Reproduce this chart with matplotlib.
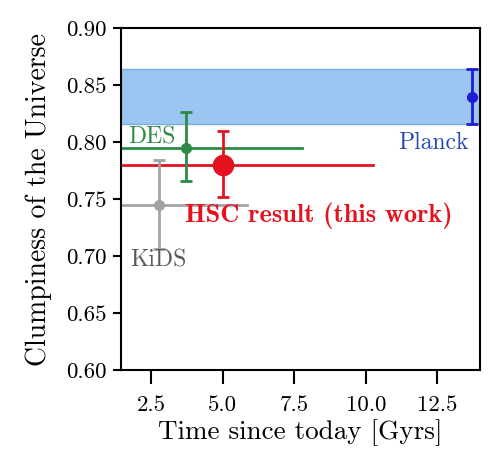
import numpy as np
import matplotlib
matplotlib.use('Agg')
import matplotlib.pyplot as plt

# survey measurements: time since today [Gyr], clumpiness (S8-like)
names = ['KiDS', 'DES', 'HSC', 'Planck']
t_mid = [2.78, 3.72, 5.0, 13.72]
t_max = [5.85, 7.78, 10.25, 13.72]
s8 = [0.745, 0.795, 0.780, 0.840]
s8_lo = [0.706, 0.766, 0.752, 0.816]
s8_hi = [0.784, 0.826, 0.810, 0.864]

colors = {'KiDS': '#a3a3a3', 'DES': '#2e8b46', 'HSC': '#e5121f', 'Planck': '#1c1cd6'}

plt.rcParams['font.family'] = 'cmr10'
plt.rcParams['axes.formatter.use_mathtext'] = True

fig = plt.figure(figsize=(5.04, 4.61), dpi=100)
ax = fig.add_axes([0.240, 0.197, 0.713, 0.742])

xlo = 1.45
# planck band
ax.axhspan(s8_lo[3], s8_hi[3], facecolor='#9cc6f2', edgecolor='#7aaee0', lw=1.0, zorder=0)

for i, n in enumerate(names):
    c = colors[n]
    err = [[s8[i] - s8_lo[i]], [s8_hi[i] - s8[i]]]
    ms = 14.5 if n == 'HSC' else 7
    if n != 'Planck':
        ax.plot([0, t_max[i]], [s8[i], s8[i]], color=c, lw=2, zorder=2)
    ax.errorbar([t_mid[i]], [s8[i]], yerr=err, fmt='o', color=c, ms=ms,
                elinewidth=2, capsize=4.5, capthick=2, zorder=3)

ax.text(1.70, 0.7985, 'DES', color=colors['DES'], fontsize=17, va='baseline')
ax.text(3.70, 0.7355, 'HSC result (this work)', color=colors['HSC'], fontsize=19,
        family='cmb10', va='center')
ax.text(1.77, 0.696, 'KiDS', color='#5a5a5a', fontsize=17, va='center')
ax.text(11.12, 0.7995, 'Planck', color='#2848b0', fontsize=17, va='center')

ax.set_xlim(xlo, 14.0)
ax.set_ylim(0.60, 0.90)
ax.set_xticks([2.5, 5.0, 7.5, 10.0, 12.5])
ax.set_yticks(np.arange(0.60, 0.901, 0.05))
ax.set_xticklabels(['2.5', '5.0', '7.5', '10.0', '12.5'])
ax.set_yticklabels(['%.2f' % v for v in np.arange(0.60, 0.901, 0.05)])
ax.tick_params(labelsize=16.5, width=1.5)
ax.tick_params(axis='x', length=10, pad=8)
ax.tick_params(axis='y', length=5.5, pad=5)
for s in ax.spines.values():
    s.set_linewidth(1.5)
ax.set_xlabel('Time since today [Gyrs]', fontsize=19.5, labelpad=3)
ax.set_ylabel('Clumpiness of the Universe', fontsize=20, labelpad=10)

fig.savefig('out.png', dpi=100)
